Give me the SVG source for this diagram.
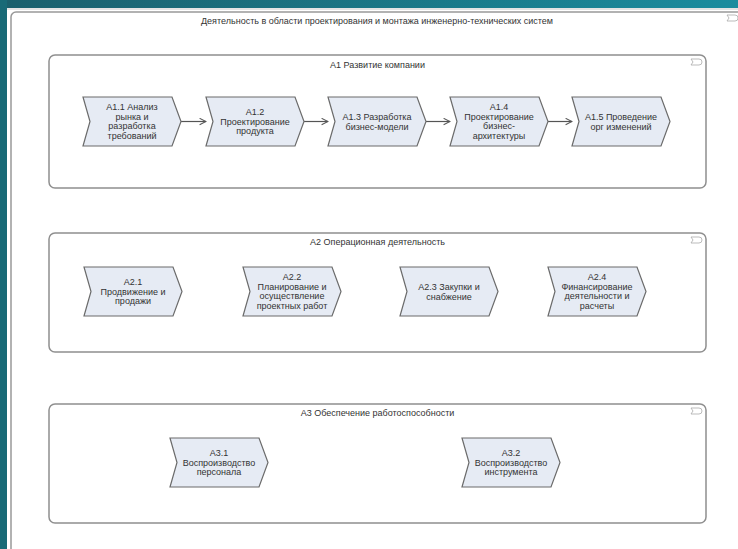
<svg xmlns="http://www.w3.org/2000/svg" width="738" height="549" viewBox="0 0 738 549">
<defs>
<linearGradient id="teal" x1="0" y1="0" x2="1" y2="0">
<stop offset="0" stop-color="#1a5f6c"/>
<stop offset="1" stop-color="#1b8c9e"/>
</linearGradient>
<path id="chev" d="M0 0 L89 0 L98 24.5 L89 49 L0 49 L7 24.5 Z"/>
<path id="tag" d="M0 0 H8 A3 3 0 0 1 8 6 H0 L2 3 Z"/>
<marker id="arr" viewBox="0 0 10 10" refX="9" refY="5" markerWidth="8" markerHeight="8" orient="auto" markerUnits="userSpaceOnUse">
<path d="M1 1 L9 5 L1 9" fill="none" stroke="#555" stroke-width="1.3"/>
</marker>
<style>
text{font-family:"Liberation Sans",Arial,sans-serif;font-size:9px;fill:#333;text-anchor:middle}
.frame{fill:#fff;stroke:#999;stroke-width:1.5}
.grp{fill:#fff;stroke:#8f8f8f;stroke-width:1.5}
.node use{fill:#e6ebf4;stroke:#6b6b6b;stroke-width:1.2}
.tagi{fill:#fff;stroke:#aaa;stroke-width:0.8}
.conn line{stroke:#555;stroke-width:1.2;marker-end:url(#arr)}
</style>
</defs>
<rect x="0" y="0" width="738" height="549" fill="#fff"/>
<rect x="0" y="0" width="738" height="8" fill="url(#teal)"/>
<rect x="0" y="0" width="7" height="549" fill="#186a77"/>
<line x1="7" y1="9" x2="738" y2="9" stroke="#e4e4e4" stroke-width="2"/>

<g id="outer">
<rect class="frame" x="11" y="12" width="760" height="570" rx="5"/>
<text x="377" y="24">Деятельность в области проектирования и монтажа инженерно-технических систем</text>
<use class="tagi" href="#tag" x="727" y="15"/>
</g>

<g id="A1">
<rect class="grp" x="49" y="55" width="657" height="133" rx="6"/>
<text x="377.5" y="68">A1 Развитие компании</text>
<use class="tagi" href="#tag" x="691" y="59"/>
</g>
<g id="A2">
<rect class="grp" x="49" y="233" width="657" height="119" rx="6"/>
<text x="377.5" y="245">A2 Операционная деятельность</text>
<use class="tagi" href="#tag" x="691" y="237"/>
</g>
<g id="A3">
<rect class="grp" x="49" y="404" width="657" height="119" rx="6"/>
<text x="377.5" y="416">A3 Обеспечение работоспособности</text>
<use class="tagi" href="#tag" x="691" y="408"/>
</g>

<g id="connectors" class="conn">
<line x1="181" y1="121.5" x2="206" y2="121.5"/>
<line x1="304" y1="121.5" x2="328" y2="121.5"/>
<line x1="426" y1="121.5" x2="450" y2="121.5"/>
<line x1="548" y1="121.5" x2="572" y2="121.5"/>
</g>

<g id="A1.1" class="node" transform="translate(83,97)">
<use href="#chev"/>
<text x="49" y="13">A1.1 Анализ</text>
<text x="49" y="22.5">рынка и</text>
<text x="49" y="32">разработка</text>
<text x="49" y="41.5">требований</text>
</g>
<g id="A1.2" class="node" transform="translate(206,97)">
<use href="#chev"/>
<text x="49" y="18">A1.2</text>
<text x="49" y="27.5">Проектирование</text>
<text x="49" y="37">продукта</text>
</g>
<g id="A1.3" class="node" transform="translate(328,97)">
<use href="#chev"/>
<text x="49" y="23">A1.3 Разработка</text>
<text x="49" y="32.5">бизнес-модели</text>
</g>
<g id="A1.4" class="node" transform="translate(450,97)">
<use href="#chev"/>
<text x="49" y="13">A1.4</text>
<text x="49" y="22.5">Проектирование</text>
<text x="49" y="32">бизнес-</text>
<text x="49" y="41.5">архитектуры</text>
</g>
<g id="A1.5" class="node" transform="translate(572,97)">
<use href="#chev"/>
<text x="49" y="23">A1.5 Проведение</text>
<text x="49" y="32.5">орг изменений</text>
</g>

<g id="A2.1" class="node" transform="translate(84,267)">
<use href="#chev"/>
<text x="49" y="18">A2.1</text>
<text x="49" y="27.5">Продвижение и</text>
<text x="49" y="37">продажи</text>
</g>
<g id="A2.2" class="node" transform="translate(243,267)">
<use href="#chev"/>
<text x="49" y="13">A2.2</text>
<text x="49" y="22.5">Планирование и</text>
<text x="49" y="32">осуществление</text>
<text x="49" y="41.5">проектных работ</text>
</g>
<g id="A2.3" class="node" transform="translate(400,267)">
<use href="#chev"/>
<text x="49" y="23">A2.3 Закупки и</text>
<text x="49" y="32.5">снабжение</text>
</g>
<g id="A2.4" class="node" transform="translate(548,267)">
<use href="#chev"/>
<text x="49" y="13">A2.4</text>
<text x="49" y="22.5">Финансирование</text>
<text x="49" y="32">деятельности и</text>
<text x="49" y="41.5">расчеты</text>
</g>

<g id="A3.1" class="node" transform="translate(170,438)">
<use href="#chev"/>
<text x="49" y="18">A3.1</text>
<text x="49" y="27.5">Воспроизводство</text>
<text x="49" y="37">персонала</text>
</g>
<g id="A3.2" class="node" transform="translate(462,438)">
<use href="#chev"/>
<text x="49" y="18">A3.2</text>
<text x="49" y="27.5">Воспроизводство</text>
<text x="49" y="37">инструмента</text>
</g>
</svg>
